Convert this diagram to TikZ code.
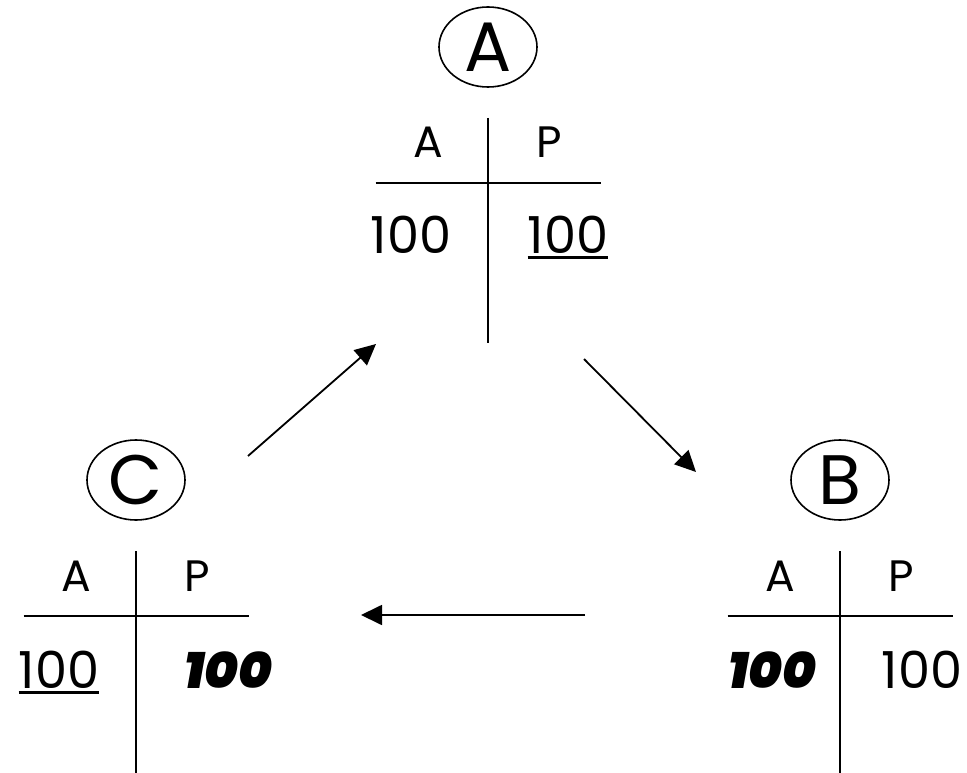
\documentclass[tikz,border=0pt]{standalone}
\usepackage{fontspec}
\setmainfont{Poppins}
\newfontfamily\heavyfont{Poppins Black Italic}
\usetikzlibrary{arrows.meta, shapes.geometric}

\tikzset{
  rule/.style={line width=1.8pt},
  badge/.style={ellipse, draw, line width=1.6pt, minimum width=98pt, minimum height=80pt,
    inner sep=0pt, font=\fontsize{70}{70}\selectfont},
  entry/.style={inner sep=0pt, anchor=base, font=\fontsize{44}{44}\selectfont},
  amount/.style={entry, font=\fontsize{51}{51}\selectfont},
  heavy/.style={entry, font=\fontsize{51}{51}\heavyfont},
  flow/.style={line width=1.8pt, -{Triangle[length=21pt, width=20pt]}},
  uline/.style={line width=3pt}
}

\begin{document}
\begin{tikzpicture}[x=1pt, y=-1pt]
  \useasboundingbox (0,0) rectangle (967,773);
  % the three T-accounts
  \foreach \n/\cx/\dy in {A/488/0, B/840/433, C/136/433} {
    \node[badge] (badge\n) at (\cx, 47+\dy) {\n};
    \draw[rule] (\cx, 118+\dy) -- (\cx, 343+\dy);
    \draw[rule] (\cx-112.5, 183+\dy) -- (\cx+112.5, 183+\dy);
    \node[entry] (head\n a) at (\cx-60, 158+\dy) {A};
    \node[entry] (head\n p) at (\cx+61, 158+\dy) {P};
  }
  % amounts
  \node[amount] (aL) at (411,253) {100};
  \node[amount] (aR) at (568,253) {100};
  \node[amount] (cL) at (59,688) {100};
  \node[heavy] (cR) at (228,688) {100};
  \node[heavy] (bL) at (772,688) {100};
  \node[amount] (bR) at (922,688) {100};
  \draw[uline] ([yshift=-4.5pt]aR.base west) -- ([yshift=-4.5pt]aR.base east);
  \draw[uline] ([yshift=-4.5pt]cL.base west) -- ([yshift=-4.5pt]cL.base east);

  % flows between accounts
  \coordinate (fromC) at (248,456);
  \coordinate (toA) at (376,344);
  \coordinate (fromA) at (584,359);
  \coordinate (toB) at (696,472);
  \coordinate (fromB) at (585,615);
  \coordinate (toC) at (361,615);
  \draw[flow] (fromC) -- (toA);
  \draw[flow] (fromA) -- (toB);
  \draw[flow] (fromB) -- (toC);
\end{tikzpicture}
\end{document}
